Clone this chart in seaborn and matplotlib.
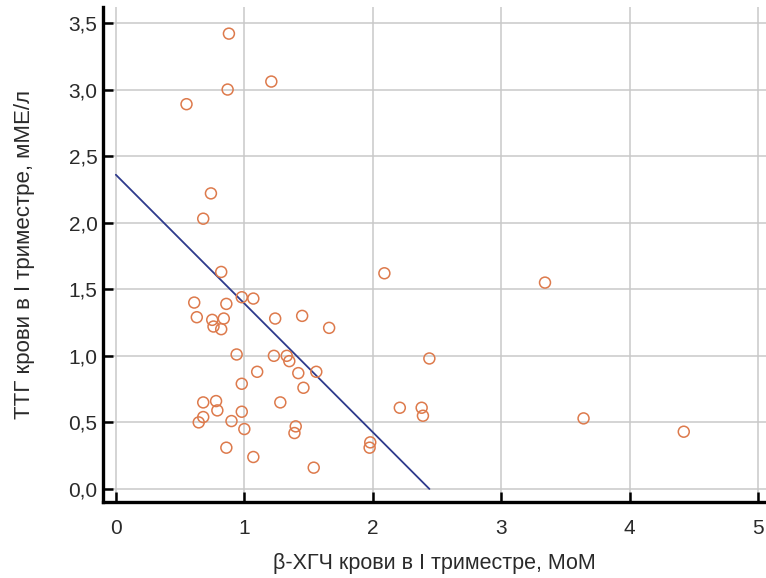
import matplotlib
matplotlib.use("Agg")
import matplotlib.pyplot as plt
from matplotlib.ticker import MultipleLocator, FuncFormatter
import seaborn as sns
import pandas as pd
import numpy as np

# --- data ---
hcg_mom = [0.88, 1.21, 0.87, 0.55, 0.74, 0.68, 0.82, 2.09, 3.34, 0.61,
           0.98, 1.07, 0.86, 0.63, 0.75, 0.84, 0.76, 0.82, 1.24, 1.45,
           1.66, 0.94, 1.23, 1.33, 1.35, 2.44, 1.10, 1.42, 1.56, 0.98,
           1.46, 0.68, 0.78, 1.28, 0.79, 0.98, 2.21, 2.38, 2.39, 0.68,
           0.645, 0.90, 1.00, 1.40, 1.39, 3.64, 4.42, 0.86, 1.98, 1.975,
           1.07, 1.54]
tsh = [3.42, 3.06, 3.00, 2.89, 2.22, 2.03, 1.63, 1.62, 1.55, 1.40,
       1.44, 1.43, 1.39, 1.29, 1.27, 1.28, 1.22, 1.20, 1.28, 1.30,
       1.21, 1.01, 1.00, 1.00, 0.96, 0.98, 0.88, 0.87, 0.88, 0.79,
       0.76, 0.65, 0.66, 0.65, 0.59, 0.58, 0.61, 0.61, 0.55, 0.54,
       0.50, 0.51, 0.45, 0.47, 0.42, 0.53, 0.43, 0.31, 0.35, 0.31,
       0.24, 0.16]
line_intercept = 2.36
line_slope = -0.967

x_label = "β-ХГЧ крови в I триместре, МоМ"
y_label = "ТТГ крови в I триместре, мМЕ/л"

df = pd.DataFrame({"x": hcg_mom, "y": tsh})
x_end = -line_intercept / line_slope
line_x = np.array([0.0, x_end])
line_df = pd.DataFrame({"x": line_x, "y": line_intercept + line_slope * line_x})

sns.set_theme(style="white")
plt.rcParams["font.family"] = ["Liberation Sans", "DejaVu Sans"]

fig = plt.figure(figsize=(7.66, 5.78), dpi=100)
ax = fig.add_axes([103 / 766, 76 / 578, 1 - 103 / 766, (502 - 7) / 578])

sns.lineplot(data=line_df, x="x", y="y", ax=ax, color="#2e3a8c", linewidth=1.3, zorder=2)
sns.scatterplot(data=df, x="x", y="y", ax=ax, marker="o", s=62,
                facecolor="none", edgecolor="#dd7a4c", linewidth=1.1, zorder=3)

ax.set_xlim(-0.1, 5.06)
ax.set_ylim(-0.098, 3.62)
ax.xaxis.set_major_locator(MultipleLocator(1))
ax.xaxis.set_minor_locator(MultipleLocator(0.5))
ax.yaxis.set_major_locator(MultipleLocator(0.5))
ax.yaxis.set_major_formatter(FuncFormatter(lambda v, p: f"{v:.1f}".replace(".", ",")))
ax.xaxis.set_major_formatter(FuncFormatter(lambda v, p: f"{v:.0f}"))

ax.grid(True, which="major", color="#c9c9c9", linewidth=1.1)
ax.set_axisbelow(True)
for s in ["top", "right"]:
    ax.spines[s].set_visible(False)
for s in ["left", "bottom"]:
    ax.spines[s].set_color("black")
    ax.spines[s].set_linewidth(2.4)

ax.tick_params(axis="both", which="major", direction="in", length=7, width=1.8,
               color="black", labelsize=15, labelcolor="#2a2a2a")
ax.tick_params(axis="x", which="minor", direction="in", length=5, width=1.3, color="black")
ax.tick_params(axis="x", which="major", bottom=True, pad=12)
ax.tick_params(axis="y", which="major", left=True, pad=4)

ax.set_xlabel(x_label, fontsize=15.5, color="#2a2a2a", labelpad=11)
ax.set_ylabel(y_label, fontsize=16, color="#2a2a2a", labelpad=24)

fig.savefig("out.png", dpi=100)
